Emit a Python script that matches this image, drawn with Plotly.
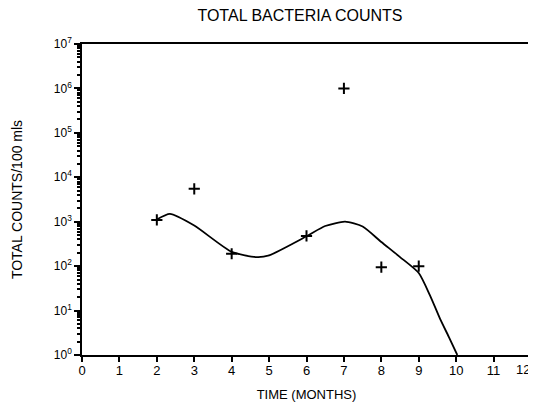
import plotly.graph_objects as go

# observed data points
months = [2, 3, 4, 6, 7, 8, 9]
counts = [1100, 5500, 190, 480, 1000000, 95, 100]

# fitted curve
curve_x = [2.0, 2.35, 3.0, 4.0, 4.68, 5.0, 6.0, 6.5, 7.03, 7.5, 8.0, 8.5, 9.0, 9.3, 9.57, 9.8, 10.03]
curve_y = [1120, 1500, 820, 210, 160, 175, 470, 800, 1000, 780, 350, 160, 70, 22, 6.5, 2.6, 1.0]

x_ticks = list(range(0, 13))
x_labels = [str(v) for v in x_ticks]
y_exps = list(range(0, 8))

FONT = "Liberation Sans, Arial, sans-serif"

fig = go.Figure()
fig.add_trace(go.Scatter(
    x=curve_x, y=curve_y, mode="lines",
    line=dict(color="black", width=1.8, shape="spline", smoothing=0.6),
    hoverinfo="skip", showlegend=False))
fig.add_trace(go.Scatter(
    x=months, y=counts, mode="markers",
    marker=dict(symbol="cross-thin", size=8, line=dict(color="black", width=2)),
    showlegend=False))

# last x label sits at the right edge: draw it right-aligned so it stays in view
axis_labels = x_labels[:-1] + [""]
fig.add_annotation(
    x=x_ticks[-1], y=0, xref="x", yref="paper", text=x_labels[-1],
    showarrow=False, xanchor="right", xshift=1, yanchor="top", yshift=-5,
    font=dict(size=13, family=FONT, color="black"))

fig.update_layout(
    width=528, height=401,
    margin=dict(l=74, r=5, t=36, b=54),
    paper_bgcolor="white", plot_bgcolor="white",
    font=dict(family=FONT, color="black", size=12),
    title=dict(text="TOTAL BACTERIA COUNTS", x=0.553, xanchor="center",
               y=0.995, yanchor="top", font=dict(size=16, family=FONT)),
)
fig.update_xaxes(
    range=[0, 12], tickvals=x_ticks, ticktext=axis_labels,
    ticks="outside", ticklen=5, tickwidth=1.5, tickcolor="black",
    ticklabelstandoff=-2,
    showline=True, linecolor="black", linewidth=1.5, mirror=True,
    showgrid=False, zeroline=False, automargin=False,
    title=dict(text="TIME (MONTHS)", font=dict(size=13), standoff=13),
    tickfont=dict(size=13),
)
fig.update_yaxes(
    type="log", range=[0, 7],
    tickvals=[10 ** e for e in y_exps],
    ticktext=["10<sup>%d</sup>" % e for e in y_exps],
    ticks="outside", ticklen=6, tickwidth=1.5, tickcolor="black",
    minor=dict(ticks="outside", ticklen=3, tickcolor="black", dtick="D1", showgrid=False),
    showline=True, linecolor="black", linewidth=1.5, mirror=True,
    showgrid=False, zeroline=False, automargin=False,
    title=dict(text="TOTAL COUNTS/100 mls", font=dict(size=14), standoff=28),
    tickfont=dict(size=12),
)

fig.write_html("out.html")
